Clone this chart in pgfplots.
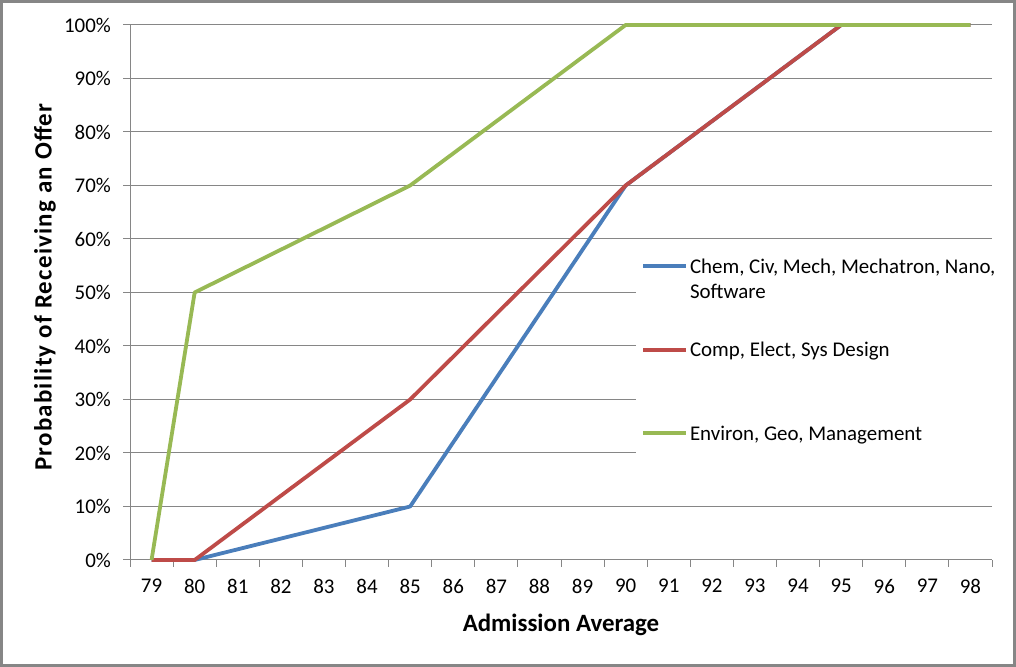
\documentclass[border=0pt]{standalone}
\usepackage{fontspec}
\setmainfont{Carlito}
\usepackage{pgfplots}
\pgfplotsset{compat=1.18}
\definecolor{sblue}{HTML}{4A7EBB}
\definecolor{sred}{HTML}{BE4B48}
\definecolor{sgreen}{HTML}{98B954}
\definecolor{gridgray}{HTML}{868686}
\begin{document}
\fontsize{21}{25}\selectfont
\begin{tikzpicture}[x=1bp,y=1bp,font=\fontsize{21}{25}\selectfont]
\path[use as bounding box] (0,0) rectangle (1016,667);
\draw[color=gridgray, line width=2.5bp] (1.5,1.5) rectangle (1014.5,665.5);
\begin{axis}[
  at={(130bp,107bp)}, anchor=south west,
  scale only axis, width=862bp, height=535bp,
  xmin=-0.5, xmax=19.5, ymin=0, ymax=100,
  clip=false,
  axis lines*=left,
  axis line style={draw=gridgray, line width=1bp, -},
  xtick={0,...,19},
  xticklabels={79,80,81,82,83,84,85,86,87,88,89,90,91,92,93,94,95,96,97,98},
  minor xtick={-0.5,0.5,...,19.5},
  ytick={0,10,...,100},
  yticklabels={0\%,10\%,20\%,30\%,40\%,50\%,60\%,70\%,80\%,90\%,100\%},
  tick align=outside,
  major tick length=7bp,
  minor tick length=7bp,
  x tick style={draw=none},
  minor x tick style={draw=gridgray, line width=1bp},
  y tick style={draw=gridgray, line width=1bp},
  yticklabel style={xshift=-5bp},
  xticklabel style={yshift=-5bp},
  ymajorgrids,
  grid style={draw=gridgray, line width=1bp},
  xlabel={\fontsize{25}{30}\selectfont\bfseries Admission Average},
  ylabel={\fontsize{25}{30}\selectfont\bfseries\addfontfeatures{LetterSpace=5}Probability of Receiving an Offer},
  xlabel style={at={(axis description cs:0.5,-0.1215)}, anchor=center},
  ylabel style={at={(axis description cs:-0.0986,0.51)}, anchor=center},
  legend style={at={(0.587,0.5916)}, anchor=north west, draw=none, fill=white,
    inner xsep=5bp, inner ysep=10bp, row sep=59bp,
    nodes={align=left, inner sep=2bp}},
  legend cell align=left,
  legend image code/.code={\draw[#1] (0bp,0bp) -- (43bp,0bp);},
  every axis plot/.append style={line width=3.8bp, line join=round},
]
\addplot[sblue] coordinates {(0,0) (1,0) (6,10) (11,70) (16,100) (19,100)};
\addlegendentry{\raisebox{0pt}[17.5bp][7.5bp]{\begin{tabular}[t]{@{}l@{}}Chem, Civ, Mech, Mechatron, Nano,\\Software\end{tabular}}}
\addplot[sred] coordinates {(0,0) (1,0) (6,30) (11,70) (16,100) (19,100)};
\addlegendentry{\rule[-7.5bp]{0pt}{25bp}Comp, Elect, Sys Design}
\addplot[sgreen] coordinates {(0,0) (1,50) (6,70) (11,100) (19,100)};
\addlegendentry{\rule[-7.5bp]{0pt}{25bp}Environ, Geo, Management}
\end{axis}
\end{tikzpicture}
\end{document}
